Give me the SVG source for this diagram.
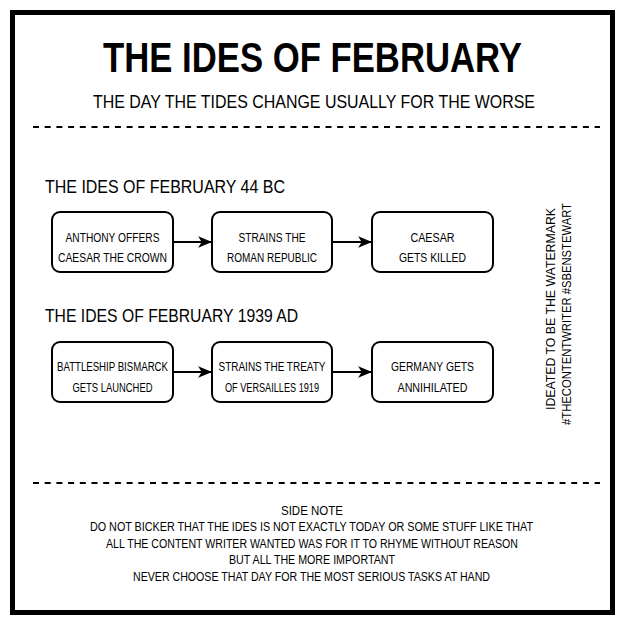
<svg xmlns="http://www.w3.org/2000/svg" width="625" height="625" viewBox="0 0 625 625">
<style>
text{font-family:"Liberation Sans",Arial,sans-serif;fill:#000}
.title{font-size:43px;font-weight:bold}
.sub{font-size:18px}
.head{font-size:18px}
.bt{font-size:12px;text-anchor:middle}
.note{font-size:12px;text-anchor:middle}
.box{fill:#fff;stroke:#000;stroke-width:2}
.dash{stroke:#000;stroke-width:2.2;stroke-dasharray:6 5.7;fill:none}
.conn{stroke:#000;stroke-width:2;fill:none}
</style>
<defs>
<marker id="ah" markerUnits="userSpaceOnUse" markerWidth="14" markerHeight="14" viewBox="0 0 12 12" refX="11" refY="6" orient="auto">
<path d="M0,1 L12,6 L0,11 L3,6 z" fill="#000"/>
</marker>
</defs>
<rect x="0" y="0" width="625" height="625" fill="#fff"/>
<rect x="12.5" y="12.5" width="600" height="600" fill="none" stroke="#000" stroke-width="5"/>
<g id="header">
<text class="title" x="312.5" y="72" text-anchor="middle" textLength="419" lengthAdjust="spacingAndGlyphs">THE IDES OF FEBRUARY</text>
<text class="sub" x="93" y="108" textLength="442" lengthAdjust="spacingAndGlyphs">THE DAY THE TIDES CHANGE USUALLY FOR THE WORSE</text>
</g>
<line class="dash" x1="33" y1="127" x2="600" y2="127"/>
<line class="dash" x1="33" y1="483" x2="600" y2="483"/>
<g id="heading1"><text class="head" x="45" y="193" textLength="240" lengthAdjust="spacingAndGlyphs">THE IDES OF FEBRUARY 44 BC</text></g>
<g id="heading2"><text class="head" x="45" y="322" textLength="253" lengthAdjust="spacingAndGlyphs">THE IDES OF FEBRUARY 1939 AD</text></g>
<g id="n1"><rect class="box" x="52" y="212" width="121" height="60" rx="8"/>
<text class="bt" x="112.5" y="242" textLength="94" lengthAdjust="spacingAndGlyphs">ANTHONY OFFERS</text>
<text class="bt" x="112.5" y="262" textLength="109" lengthAdjust="spacingAndGlyphs">CAESAR THE CROWN</text></g>
<g id="n2"><rect class="box" x="212" y="212" width="120" height="60" rx="8"/>
<text class="bt" x="272" y="242" textLength="67" lengthAdjust="spacingAndGlyphs">STRAINS THE</text>
<text class="bt" x="272" y="262" textLength="90" lengthAdjust="spacingAndGlyphs">ROMAN REPUBLIC</text></g>
<g id="n3"><rect class="box" x="372" y="212" width="121" height="60" rx="8"/>
<text class="bt" x="432.5" y="242" textLength="44" lengthAdjust="spacingAndGlyphs">CAESAR</text>
<text class="bt" x="432.5" y="262" textLength="67" lengthAdjust="spacingAndGlyphs">GETS KILLED</text></g>
<g id="n4"><rect class="box" x="52" y="342" width="121" height="60" rx="8"/>
<text class="bt" x="112.5" y="371" textLength="111" lengthAdjust="spacingAndGlyphs">BATTLESHIP BISMARCK</text>
<text class="bt" x="112.5" y="392" textLength="80" lengthAdjust="spacingAndGlyphs">GETS LAUNCHED</text></g>
<g id="n5"><rect class="box" x="212" y="342" width="120" height="60" rx="8"/>
<text class="bt" x="272" y="371" textLength="107" lengthAdjust="spacingAndGlyphs">STRAINS THE TREATY</text>
<text class="bt" x="272" y="392" textLength="94" lengthAdjust="spacingAndGlyphs">OF VERSAILLES 1919</text></g>
<g id="n6"><rect class="box" x="372" y="342" width="121" height="60" rx="8"/>
<text class="bt" x="432.5" y="371" textLength="83" lengthAdjust="spacingAndGlyphs">GERMANY GETS</text>
<text class="bt" x="432.5" y="392" textLength="70" lengthAdjust="spacingAndGlyphs">ANNIHILATED</text></g>
<g id="connectors">
<line class="conn" x1="173" y1="242" x2="211" y2="242" marker-end="url(#ah)"/>
<line class="conn" x1="332" y1="242" x2="371" y2="242" marker-end="url(#ah)"/>
<line class="conn" x1="173" y1="372" x2="211" y2="372" marker-end="url(#ah)"/>
<line class="conn" x1="332" y1="372" x2="371" y2="372" marker-end="url(#ah)"/>
</g>
<g id="watermark">
<text class="note" transform="translate(554.5,309) rotate(-90)" textLength="202" lengthAdjust="spacingAndGlyphs">IDEATED TO BE THE WATERMARK</text>
<text class="note" transform="translate(570.5,314) rotate(-90)" textLength="222" lengthAdjust="spacingAndGlyphs">#THECONTENTWRITER #SBENSTEWART</text>
</g>
<g id="sidenote">
<text class="note" x="312" y="515" textLength="62" lengthAdjust="spacingAndGlyphs">SIDE NOTE</text>
<text class="note" x="311.5" y="531" textLength="443" lengthAdjust="spacingAndGlyphs">DO NOT BICKER THAT THE IDES IS NOT EXACTLY TODAY OR SOME STUFF LIKE THAT</text>
<text class="note" x="312" y="548" textLength="412" lengthAdjust="spacingAndGlyphs">ALL THE CONTENT WRITER WANTED WAS FOR IT TO RHYME WITHOUT REASON</text>
<text class="note" x="312" y="564" textLength="166" lengthAdjust="spacingAndGlyphs">BUT ALL THE MORE IMPORTANT</text>
<text class="note" x="311.5" y="581" textLength="357" lengthAdjust="spacingAndGlyphs">NEVER CHOOSE THAT DAY FOR THE MOST SERIOUS TASKS AT HAND</text>
</g>
</svg>
